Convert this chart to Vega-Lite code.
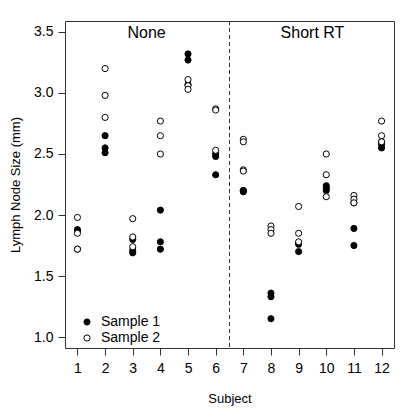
{
  "$schema": "https://vega.github.io/schema/vega-lite/v6.json",
  "autosize": "none",
  "width": 329,
  "height": 327,
  "padding": {"left": 65, "top": 21, "right": 11, "bottom": 70},
  "background": "white",
  "config": {
    "font": "Liberation Sans",
    "view": {"stroke": "#333333", "strokeWidth": 1},
    "axis": {"grid": false, "domain": false, "tickColor": "#333333", "tickSize": 7, "labelColor": "black", "titleColor": "black", "labelFontSize": 14, "titleFontSize": 13, "titleFontWeight": "normal", "labelFont": "Liberation Sans", "titleFont": "Liberation Sans", "labelOverlap": false, "labelFlush": false},
    "axisX": {"labelOverlap": false},
    "axisQuantitative": {"labelOverlap": false}
  },
  "datasets": {
    "pts": [
      {"subject": 1, "size": 1.88, "sample": "Sample 1"},
      {"subject": 1, "size": 1.87, "sample": "Sample 1"},
      {"subject": 1, "size": 1.72, "sample": "Sample 1"},
      {"subject": 1, "size": 1.98, "sample": "Sample 2"},
      {"subject": 1, "size": 1.85, "sample": "Sample 2"},
      {"subject": 1, "size": 1.72, "sample": "Sample 2"},
      {"subject": 2, "size": 2.65, "sample": "Sample 1"},
      {"subject": 2, "size": 2.55, "sample": "Sample 1"},
      {"subject": 2, "size": 2.51, "sample": "Sample 1"},
      {"subject": 2, "size": 3.20, "sample": "Sample 2"},
      {"subject": 2, "size": 2.98, "sample": "Sample 2"},
      {"subject": 2, "size": 2.80, "sample": "Sample 2"},
      {"subject": 3, "size": 1.80, "sample": "Sample 1"},
      {"subject": 3, "size": 1.71, "sample": "Sample 1"},
      {"subject": 3, "size": 1.69, "sample": "Sample 1"},
      {"subject": 3, "size": 1.97, "sample": "Sample 2"},
      {"subject": 3, "size": 1.82, "sample": "Sample 2"},
      {"subject": 3, "size": 1.74, "sample": "Sample 2"},
      {"subject": 4, "size": 2.04, "sample": "Sample 1"},
      {"subject": 4, "size": 1.78, "sample": "Sample 1"},
      {"subject": 4, "size": 1.72, "sample": "Sample 1"},
      {"subject": 4, "size": 2.77, "sample": "Sample 2"},
      {"subject": 4, "size": 2.65, "sample": "Sample 2"},
      {"subject": 4, "size": 2.50, "sample": "Sample 2"},
      {"subject": 5, "size": 3.32, "sample": "Sample 1"},
      {"subject": 5, "size": 3.27, "sample": "Sample 1"},
      {"subject": 5, "size": 3.07, "sample": "Sample 1"},
      {"subject": 5, "size": 3.11, "sample": "Sample 2"},
      {"subject": 5, "size": 3.06, "sample": "Sample 2"},
      {"subject": 5, "size": 3.03, "sample": "Sample 2"},
      {"subject": 6, "size": 2.50, "sample": "Sample 1"},
      {"subject": 6, "size": 2.48, "sample": "Sample 1"},
      {"subject": 6, "size": 2.33, "sample": "Sample 1"},
      {"subject": 6, "size": 2.87, "sample": "Sample 2"},
      {"subject": 6, "size": 2.86, "sample": "Sample 2"},
      {"subject": 6, "size": 2.53, "sample": "Sample 2"},
      {"subject": 7, "size": 2.20, "sample": "Sample 1"},
      {"subject": 7, "size": 2.20, "sample": "Sample 1"},
      {"subject": 7, "size": 2.19, "sample": "Sample 1"},
      {"subject": 7, "size": 2.62, "sample": "Sample 2"},
      {"subject": 7, "size": 2.60, "sample": "Sample 2"},
      {"subject": 7, "size": 2.37, "sample": "Sample 2"},
      {"subject": 7, "size": 2.36, "sample": "Sample 2"},
      {"subject": 8, "size": 1.36, "sample": "Sample 1"},
      {"subject": 8, "size": 1.33, "sample": "Sample 1"},
      {"subject": 8, "size": 1.15, "sample": "Sample 1"},
      {"subject": 8, "size": 1.91, "sample": "Sample 2"},
      {"subject": 8, "size": 1.88, "sample": "Sample 2"},
      {"subject": 8, "size": 1.85, "sample": "Sample 2"},
      {"subject": 9, "size": 1.77, "sample": "Sample 1"},
      {"subject": 9, "size": 1.76, "sample": "Sample 1"},
      {"subject": 9, "size": 1.70, "sample": "Sample 1"},
      {"subject": 9, "size": 2.07, "sample": "Sample 2"},
      {"subject": 9, "size": 1.85, "sample": "Sample 2"},
      {"subject": 9, "size": 1.78, "sample": "Sample 2"},
      {"subject": 10, "size": 2.24, "sample": "Sample 1"},
      {"subject": 10, "size": 2.22, "sample": "Sample 1"},
      {"subject": 10, "size": 2.20, "sample": "Sample 1"},
      {"subject": 10, "size": 2.50, "sample": "Sample 2"},
      {"subject": 10, "size": 2.33, "sample": "Sample 2"},
      {"subject": 10, "size": 2.15, "sample": "Sample 2"},
      {"subject": 11, "size": 2.10, "sample": "Sample 1"},
      {"subject": 11, "size": 1.89, "sample": "Sample 1"},
      {"subject": 11, "size": 1.75, "sample": "Sample 1"},
      {"subject": 11, "size": 2.16, "sample": "Sample 2"},
      {"subject": 11, "size": 2.13, "sample": "Sample 2"},
      {"subject": 11, "size": 2.10, "sample": "Sample 2"},
      {"subject": 12, "size": 2.60, "sample": "Sample 1"},
      {"subject": 12, "size": 2.58, "sample": "Sample 1"},
      {"subject": 12, "size": 2.55, "sample": "Sample 1"},
      {"subject": 12, "size": 2.77, "sample": "Sample 2"},
      {"subject": 12, "size": 2.65, "sample": "Sample 2"},
      {"subject": 12, "size": 2.60, "sample": "Sample 2"}
    ],
    "labels": [
      {"subject": 3.5, "size": 3.49, "label": "None"},
      {"subject": 9.5, "size": 3.49, "label": "Short RT"}
    ],
    "divider": [{"subject": 6.5}]
  },
  "layer": [
    {
      "data": {"name": "divider"},
      "mark": {"type": "rule", "color": "#333333", "strokeDash": [4, 3], "strokeWidth": 1},
      "encoding": {
        "x": {"field": "subject", "type": "quantitative", "title": "Subject",
              "scale": {"domain": [0.55, 12.45], "nice": false, "zero": false},
              "axis": {"values": [1,2,3,4,5,6,7,8,9,10,11,12], "labelPadding": 6, "titlePadding": 17, "labelFlush": false, "labelOverlap": false}}
      }
    },
    {
      "data": {"name": "pts"},
      "mark": {"type": "point", "shape": "circle", "filled": true, "stroke": "black", "strokeWidth": 1, "size": 38, "opacity": 1},
      "encoding": {
        "x": {"field": "subject", "type": "quantitative", "title": "Subject",
              "scale": {"domain": [0.55, 12.45], "nice": false, "zero": false},
              "axis": {"values": [1,2,3,4,5,6,7,8,9,10,11,12], "labelPadding": 6, "titlePadding": 17, "labelFlush": false, "labelOverlap": false}},
        "y": {"field": "size", "type": "quantitative", "title": "Lymph Node Size (mm)",
              "scale": {"domain": [0.91, 3.59], "nice": false, "zero": false},
              "axis": {"values": [1, 1.5, 2, 2.5, 3, 3.5], "format": ".1f", "labelPadding": 5, "titlePadding": 11, "labelFlush": false, "labelOverlap": false}},
        "fill": {"field": "sample", "type": "nominal",
                 "scale": {"domain": ["Sample 1", "Sample 2"], "range": ["black", "white"]},
                 "legend": {"title": null, "orient": "none", "legendX": 15, "legendY": 294, "padding": 0,
                            "labelFontSize": 14, "labelFont": "Liberation Sans", "labelColor": "black", "labelOffset": 7,
                            "symbolType": "circle", "symbolSize": 38, "symbolStrokeColor": "black", "symbolStrokeWidth": 1,
                            "rowPadding": 2, "symbolOpacity": 1}}
      }
    },
    {
      "data": {"name": "labels"},
      "mark": {"type": "text", "fontSize": 16, "font": "Liberation Sans", "color": "black", "baseline": "middle", "align": "center"},
      "encoding": {
        "x": {"field": "subject", "type": "quantitative", "title": "Subject",
              "scale": {"domain": [0.55, 12.45], "nice": false, "zero": false},
              "axis": {"values": [1,2,3,4,5,6,7,8,9,10,11,12], "labelPadding": 6, "titlePadding": 17, "labelFlush": false, "labelOverlap": false}},
        "y": {"field": "size", "type": "quantitative", "title": "Lymph Node Size (mm)",
              "scale": {"domain": [0.91, 3.59], "nice": false, "zero": false},
              "axis": {"values": [1, 1.5, 2, 2.5, 3, 3.5], "format": ".1f", "labelPadding": 5, "titlePadding": 11, "labelFlush": false, "labelOverlap": false}},
        "text": {"field": "label"}
      }
    }
  ]
}
